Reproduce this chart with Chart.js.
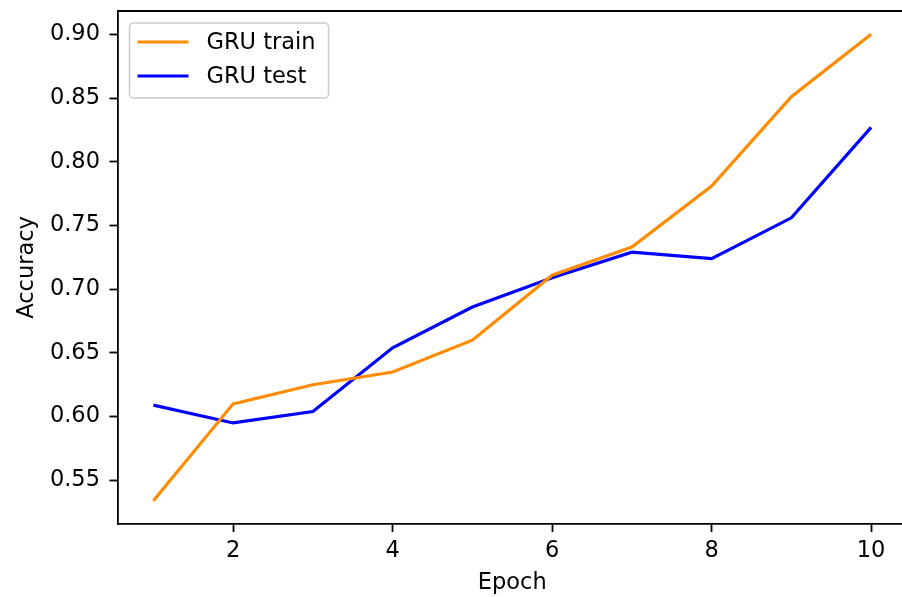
<!DOCTYPE html>
<html>
<head>
<meta charset="utf-8">
<script src="https://cdn.jsdelivr.net/npm/chart.js@4/dist/chart.umd.min.js"></script>
<style>
  html, body { margin: 0; padding: 0; background: #fff; overflow: hidden; }
  #wrap { position: relative; width: 902px; height: 597px; overflow: hidden; }
  #c { position: absolute; left: 0; top: 0; }
</style>
</head>
<body>
<div id="wrap"><canvas id="c" width="910" height="597"></canvas></div>
<script>
// Training history of the GRU model
const epochs = [1, 2, 3, 4, 5, 6, 7, 8, 9, 10];
const trainAcc = [0.534, 0.610, 0.625, 0.635, 0.660, 0.711, 0.733, 0.781, 0.851, 0.900];
const testAcc  = [0.609, 0.595, 0.604, 0.654, 0.686, 0.709, 0.729, 0.724, 0.756, 0.827];
const xTicks = [2, 4, 6, 8, 10];
const yTicks = [0.55, 0.60, 0.65, 0.70, 0.75, 0.80, 0.85, 0.90];

const FONT = 'DejaVu Sans';
const FS = 22.5;

const toPoints = (vals) => epochs.map((e, i) => ({ x: e, y: vals[i] }));

// Top/right spines and an upper-left framed legend
const framePlugin = {
  id: 'frame',
  afterDatasetsDraw(chart) {
    const { ctx, chartArea: a } = chart;
    ctx.save();
    ctx.strokeStyle = '#000';
    ctx.lineWidth = 1.8;
    ctx.beginPath();
    ctx.moveTo(a.left, a.top);
    ctx.lineTo(a.right, a.top);
    ctx.lineTo(a.right, a.bottom);
    ctx.stroke();

    // legend
    const bx = a.left + 12, by = a.top + 12, bw = 199, bh = 75;
    ctx.beginPath();
    ctx.roundRect(bx, by, bw, bh, 4);
    ctx.fillStyle = 'rgba(255,255,255,0.8)';
    ctx.fill();
    ctx.strokeStyle = '#cccccc';
    ctx.lineWidth = 1.5;
    ctx.stroke();
    ctx.font = `${FS}px ${FONT}`;
    ctx.textBaseline = 'middle';
    ctx.fillStyle = '#000';
    chart.data.datasets.forEach((ds, i) => {
      const y = by + 19 + i * 34;
      ctx.beginPath();
      ctx.strokeStyle = ds.borderColor;
      ctx.lineWidth = 3.2;
      ctx.moveTo(bx + 8, y);
      ctx.lineTo(bx + 59, y);
      ctx.stroke();
      ctx.fillText(ds.label, bx + 77, y + 1);
    });
    ctx.restore();
  }
};

const fixPadding = (s) => { s.paddingTop = 0; s.paddingBottom = 0; s.paddingLeft = 0; s.paddingRight = 0; };

new Chart(document.getElementById('c'), {
  type: 'line',
  data: {
    datasets: [
      { label: 'GRU train', data: toPoints(trainAcc), borderColor: '#FF8C00', borderWidth: 3.2, pointRadius: 0, tension: 0, fill: false },
      { label: 'GRU test',  data: toPoints(testAcc),  borderColor: '#0000FF', borderWidth: 3.2, pointRadius: 0, tension: 0, fill: false }
    ]
  },
  options: {
    responsive: false,
    animation: false,
    devicePixelRatio: 1,
    layout: { padding: { left: 0, top: 11, right: 3, bottom: 0 } },
    plugins: { legend: { display: false }, tooltip: { enabled: false } },
    scales: {
      x: {
        type: 'linear',
        min: 0.55,
        max: 10.45,
        afterBuildTicks: (s) => { s.ticks = xTicks.map(v => ({ value: v })); },
        afterFit: (s) => { s.height = 73; fixPadding(s); },
        grid: { display: true, drawOnChartArea: false, drawTicks: true, tickLength: 8, tickWidth: 1.8, tickColor: '#000' },
        border: { display: true, color: '#000', width: 1.8 },
        ticks: { color: '#000', font: { family: FONT, size: FS }, padding: 6, maxRotation: 0, autoSkip: false,
                 callback: (v) => String(v) },
        title: { display: true, text: 'Epoch', color: '#000', font: { family: FONT, size: FS }, padding: { top: 2, bottom: 0 } }
      },
      y: {
        type: 'linear',
        min: 0.5157,
        max: 0.9183,
        afterBuildTicks: (s) => { s.ticks = yTicks.map(v => ({ value: v })); },
        afterFit: (s) => { s.width = 117.5; fixPadding(s); },
        grid: { display: true, drawOnChartArea: false, drawTicks: true, tickLength: 8, tickWidth: 1.8, tickColor: '#000' },
        border: { display: true, color: '#000', width: 1.8 },
        ticks: { color: '#000', font: { family: FONT, size: FS }, padding: 9.5, autoSkip: false,
                 callback: (v) => Number(v).toFixed(2) },
        title: { display: true, text: 'Accuracy', color: '#000', font: { family: FONT, size: FS }, padding: { top: 14, bottom: 0 } }
      }
    }
  },
  plugins: [framePlugin]
});
</script>
</body>
</html>
